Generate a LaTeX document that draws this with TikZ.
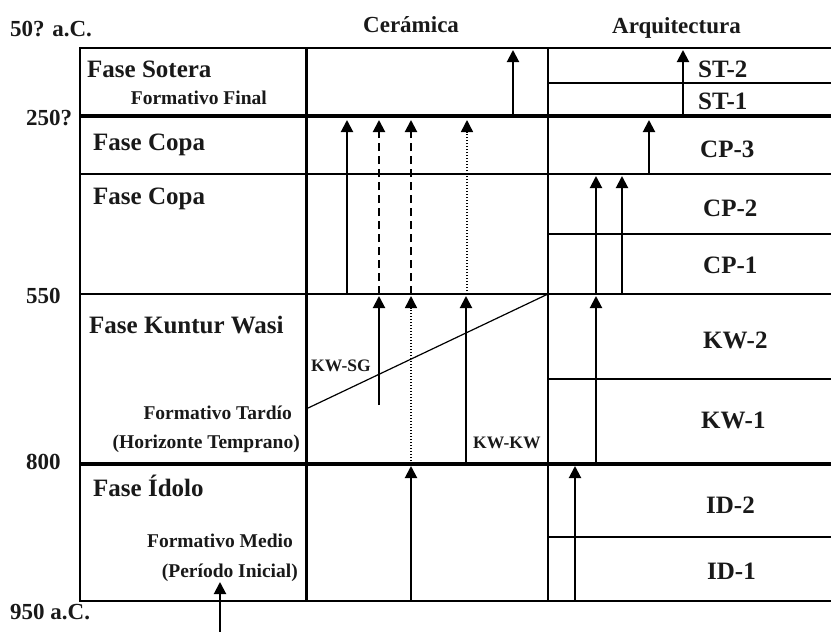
\documentclass[tikz,border=0pt]{standalone}
\usepackage{fontspec}
\setmainfont{Liberation Serif}
\usetikzlibrary{arrows.meta}
\begin{document}
\begin{tikzpicture}[x=1pt,y=-1pt,
  big/.style={anchor=base west,inner sep=0pt,text=black!90,font=\bfseries\fontsize{25}{25}\selectfont},
  yr/.style={anchor=base west,inner sep=0pt,text=black!90,font=\bfseries\fontsize{23}{23}\selectfont},
  sml/.style={anchor=base east,inner sep=0pt,text=black!90,font=\bfseries\fontsize{19.5}{19.5}\selectfont},
  tiny/.style={anchor=base west,inner sep=0pt,text=black!90,font=\bfseries\fontsize{17.5}{17.5}\selectfont},
  thin/.style={line width=1.3pt},
  mid/.style={line width=2pt},
  thick line/.style={line width=4.5pt},
  arr/.style={line width=2pt,-{Triangle[width=12pt,length=12pt]}},
  dasharr/.style={arr,dash pattern=on 8pt off 5pt},
  dotarr/.style={arr,line width=1.4pt,dash pattern=on 1.4pt off 1.6pt,-{Triangle[width=12pt,length=12pt]}},
]
\useasboundingbox (0,0) rectangle (831,632);
% grid
\draw[line width=2.5pt] (80,48) -- (831,48);
\draw[line width=2.5pt] (80,46.75) -- (80,602.25);
\draw[thick line] (80,116) -- (831,116);
\draw[thin] (548,83) -- (831,83);
\draw[mid] (80,174) -- (831,174);
\draw[thin] (548,234) -- (831,234);
\draw[mid] (80,294) -- (831,294);
\draw[thin] (548,379) -- (831,379);
\draw[thick line] (80,464) -- (831,464);
\draw[thin] (548,537) -- (831,537);
\draw[line width=2.5pt] (80,601) -- (831,601);
\draw[line width=3pt] (306,48) -- (306,601);
\draw[thin] (548,48) -- (548,601);
\draw[line width=1.2pt] (306,409) -- (548,294);
% labels
\node[yr] (t50) at (10,36) {50? a.C.};
\node[yr] (t250) at (26,125) {250?};
\node[yr] (t550) at (26,303) {550};
\node[yr] (t800) at (26,469) {800};
\node[yr] (t950) at (10,619) {950 a.C.};
\node[yr] (hcer) at (363,32) {Cerámica};
\node[yr] (harq) at (612,33) {Arquitectura};
\node[big] (fsot) at (87,77) {Fase Sotera};
\node[sml] (ffin) at (267,104) {Formativo Final};
\node[big] (fcopa1) at (93,150) {Fase Copa};
\node[big] (fcopa2) at (93,204) {Fase Copa};
\node[big] (fkw) at (89,333) {Fase Kuntur Wasi};
\node[sml] (ftar) at (292,419) {Formativo Tardío};
\node[sml] (fhor) at (300,448) {(Horizonte Temprano)};
\node[big] (fido) at (93,496) {Fase Ídolo};
\node[sml] (fmed) at (293,547) {Formativo Medio};
\node[sml] (fini) at (298,577) {(Período Inicial)};
\node[tiny] (kwsg) at (311,371) {KW-SG};
\node[tiny] (kwkw) at (473,448) {KW-KW};
\node[big] (st2) at (698,77) {ST-2};
\node[big] (st1) at (698,109) {ST-1};
\node[big] (cp3) at (700,157) {CP-3};
\node[big] (cp2) at (703,216) {CP-2};
\node[big] (cp1) at (703,273) {CP-1};
\node[big] (kw2) at (703,348) {KW-2};
\node[big] (kw1) at (701,428) {KW-1};
\node[big] (id2) at (706,513) {ID-2};
\node[big] (id1) at (707,579) {ID-1};
% arrow end points
\coordinate (a1s) at (347,294); \coordinate (a1e) at (347,120);
\coordinate (a2s) at (379,294); \coordinate (a2e) at (379,120);
\coordinate (a3s) at (411,294); \coordinate (a3e) at (411,120);
\coordinate (a4s) at (467,294); \coordinate (a4e) at (467,120);
\coordinate (a5s) at (513,116); \coordinate (a5e) at (513,50);
\coordinate (a6s) at (683,116); \coordinate (a6e) at (683,50);
\coordinate (a7s) at (649,174); \coordinate (a7e) at (649,120);
\coordinate (a8s) at (596,294); \coordinate (a8e) at (596,176);
\coordinate (a9s) at (622,294); \coordinate (a9e) at (622,176);
\coordinate (b1s) at (379,405); \coordinate (b1e) at (379,296);
\coordinate (b2s) at (411,464); \coordinate (b2e) at (411,296);
\coordinate (b3s) at (466,464); \coordinate (b3e) at (466,296);
\coordinate (b4s) at (596,464); \coordinate (b4e) at (596,296);
\coordinate (c1s) at (411,601); \coordinate (c1e) at (411,466);
\coordinate (c2s) at (575,601); \coordinate (c2e) at (575,466);
\coordinate (ds) at (220,632); \coordinate (de) at (220,582);
% arrows
\draw[arr] (a1s) -- (a1e);
\draw[dasharr] (a2s) -- (a2e);
\draw[dasharr] (a3s) -- (a3e);
\draw[dotarr] (a4s) -- (a4e);
\draw[arr] (a5s) -- (a5e);
\draw[arr] (a6s) -- (a6e);
\draw[arr] (a7s) -- (a7e);
\draw[arr] (a8s) -- (a8e);
\draw[arr] (a9s) -- (a9e);
\draw[arr] (b1s) -- (b1e);
\draw[dotarr] (b2s) -- (b2e);
\draw[arr] (b3s) -- (b3e);
\draw[arr] (b4s) -- (b4e);
\draw[arr] (c1s) -- (c1e);
\draw[arr] (c2s) -- (c2e);
\draw[arr] (ds) -- (de);
\end{tikzpicture}
\end{document}
